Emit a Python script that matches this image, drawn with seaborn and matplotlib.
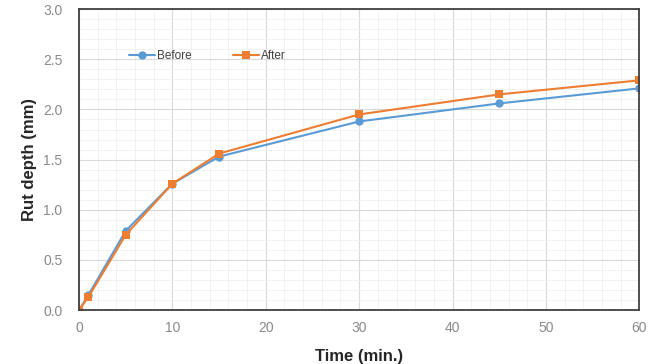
import matplotlib
matplotlib.use("Agg")
import matplotlib.pyplot as plt
import seaborn as sns
import pandas as pd
from matplotlib.ticker import MultipleLocator, FormatStrFormatter

time_min = [0, 1, 5, 10, 15, 30, 45, 60]
before = [0.0, 0.15, 0.79, 1.26, 1.53, 1.88, 2.06, 2.21]
after = [0.0, 0.13, 0.75, 1.26, 1.56, 1.95, 2.15, 2.29]
series_names = ["Before", "After"]
colors = ["#5B9BD5", "#ED7D31"]
markers = ["o", "s"]

df = pd.DataFrame({
    "Time": time_min * 2,
    "Rut": before + after,
    "Series": [series_names[0]] * len(time_min) + [series_names[1]] * len(time_min),
})

sns.set_style("white")
plt.rcParams['font.family'] = ['Liberation Sans', 'DejaVu Sans']

fig = plt.figure(figsize=(6.53, 3.64), dpi=100)
ax = fig.add_axes([0.121, 0.148, 0.858, 0.827])

sns.lineplot(data=df, x="Time", y="Rut", hue="Series", style="Series",
             palette=colors, markers=markers, dashes=False, markersize=6,
             markeredgewidth=0, linewidth=1.5, ax=ax)

ax.set_xlim(0, 60)
ax.set_ylim(0, 3.0)
ax.xaxis.set_major_locator(MultipleLocator(10))
ax.yaxis.set_major_locator(MultipleLocator(0.5))
ax.yaxis.set_major_formatter(FormatStrFormatter("%.1f"))
ax.xaxis.set_minor_locator(MultipleLocator(2))
ax.yaxis.set_minor_locator(MultipleLocator(0.1))
ax.grid(which="major", color="#d9d9d9", linewidth=0.8)
ax.grid(which="minor", color="#f0f0f0", linewidth=0.6)
ax.set_axisbelow(True)

for s in ax.spines.values():
    s.set_color("#404040")
    s.set_linewidth(1.3)

ax.tick_params(axis="x", which="major", direction="in", length=4, color="#404040",
               labelsize=10, labelcolor="#8a8a8a", pad=8)
ax.tick_params(axis="y", which="major", direction="out", length=4, color="#404040",
               labelsize=10, labelcolor="#8a8a8a", pad=8)
ax.tick_params(which="minor", length=0)

ax.set_xlabel("Time (min.)", fontsize=12, fontweight="bold", labelpad=10)
ax.set_ylabel("Rut depth (mm)", fontsize=12, fontweight="bold", labelpad=4)

leg = ax.legend(loc="upper left", bbox_to_anchor=(0.07, 0.9), ncol=2, frameon=False,
                fontsize=8.5, handlelength=2.2, handletextpad=0.2, columnspacing=3.5)
for t in leg.get_texts():
    t.set_color("#404040")

fig.savefig("out.png", dpi=100)
